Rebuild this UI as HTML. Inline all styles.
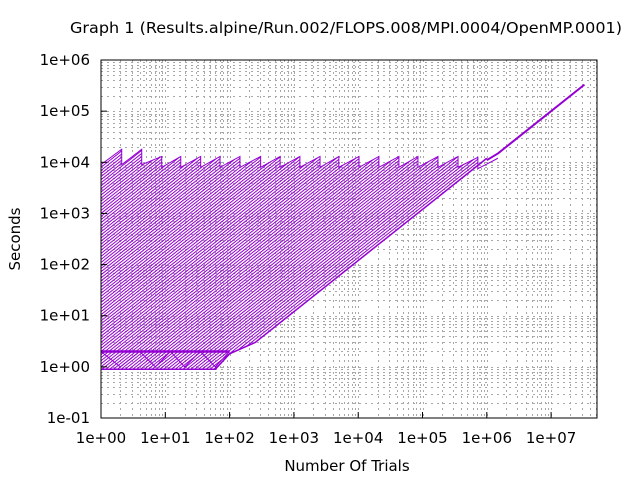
<!DOCTYPE html>
<html><head><meta charset="utf-8"><style>
html,body{margin:0;padding:0;background:#fff;width:640px;height:480px;overflow:hidden}
svg{display:block;font-family:"DejaVu Sans","Liberation Sans",sans-serif}
</style></head><body>
<svg id="chart" width="640" height="480" viewBox="0 0 640 480">
<text x="346" y="33" font-size="15" text-anchor="middle" textLength="552" lengthAdjust="spacingAndGlyphs">Graph 1 (Results.alpine/Run.002/FLOPS.008/MPI.0004/OpenMP.0001)</text>
<text x="20" y="239" font-size="15" text-anchor="middle" transform="rotate(-90 20 239)">Seconds</text>
<text x="347" y="471" font-size="15" text-anchor="middle">Number Of Trials</text>
<g id="grid"></g>
<defs><clipPath id="fillclip"><polygon id="fillpoly" points=""/></clipPath>
<clipPath id="plotclip"><rect x="101" y="60" width="496" height="358"/></clipPath></defs>
<g id="series" clip-path="url(#plotclip)"></g>
<rect x="101" y="60" width="496" height="358" fill="none" stroke="#000" stroke-width="1"/>
<g id="ticks"></g>
</svg>
<script>
const xTickLabels = ["1e+00","1e+01","1e+02","1e+03","1e+04","1e+05","1e+06","1e+07"];
const xTickValues = [0,1,2,3,4,5,6,7];
const yTickLabels = ["1e-01","1e+00","1e+01","1e+02","1e+03","1e+04","1e+05","1e+06"];
const yTickValues = [-1,0,1,2,3,4,5,6];
const peakTrials = [2.1,4.3,8.8,17.4,35.5,71,145,304,610,1240,2550,5000,10300,21000,43000,85000,174000,357000,727000,1490000];
const peakSeconds = [18000,18000,13000,13000,13000,13000,13000,13000,13000,13000,13000,13000,13000,13000,13000,13000,13000,13000,12500,12000];
const troughSeconds = [9000,9000,8000,8000,8000,8000,8000,8000,8000,8000,8000,8000,8000,8000,8000,8000,8000,8000,7500,7000];
const floorTrials = [1,60,100,250,1000000];
const floorSeconds = [0.9,0.9,1.8,3,12000];
const ratioLog = [-1.92,-1.86,-1.8,-1.74,-1.68,-1.62,-1.56,-1.5,-1.44,-1.38,-1.32,-1.26,-1.2,-1.14,-1.08,-1.02,-0.96,-0.9,-0.84,-0.78,-0.72,-0.66,-0.6,-0.54,-0.48,-0.42,-0.36,-0.3,-0.24,-0.18,-0.12,-0.06,0,0.06,0.12,0.18,0.24,0.3,0.36,0.42,0.48,0.54,0.6,0.66,0.72,0.78,0.84,0.9,0.96,1.02,1.08,1.14,1.2,1.26,1.32,1.38,1.44,1.5,1.56,1.62,1.68,1.74,1.8,1.86,1.92,1.98,2.04,2.1,2.16,2.22,2.28,2.34,2.4,2.46,2.52,2.58,2.64,2.7,2.76,2.82,2.88,2.94,3,3.06,3.12,3.18,3.24,3.3,3.36,3.42,3.48,3.54,3.6,3.66,3.72,3.78,3.84,3.9,3.96,4.02,4.08,4.14,4.2,4.26];
const zigTrials = [1,2,4,7,12,20,35,60,100,60,35,20,12,7,4,2,1];
const zigSeconds = [2,1,2,1,2,1,2,1,2,1,2,1,2,1,2,1,2];
const tailTrials = [1000000,1500000,33000000];
const tailSeconds = [11000,15000,330000];

const X0=101,X1=597,Y0=418,Y1=60;
const xPerDec=64.3, yPerDec=51.14;
function sx(v){return X0+Math.log10(v)*xPerDec;}
function sy(v){return Y0-(Math.log10(v)+1)*yPerDec;}
const NS="http://www.w3.org/2000/svg";
function mk(tag,attrs,parent){const e=document.createElementNS(NS,tag);for(const k in attrs)e.setAttribute(k,attrs[k]);parent.appendChild(e);return e;}
const grid=document.getElementById('grid'), ticks=document.getElementById('ticks'), series=document.getElementById('series');
for(let d=0; d<8; d++){for(let m=1;m<10;m++){const x=Math.round(sx(m*Math.pow(10,d)))+0.5; if(x<=X0+1||x>=X1) continue;
 const g=mk('line',{x1:x,x2:x,y1:Y1,y2:Y0,stroke:'#a8a8a8','stroke-width':1,'stroke-dasharray':'2,4'},grid);
 
 }}
for(let d=-1; d<6; d++){for(let m=1;m<10;m++){const y=Math.round(sy(m*Math.pow(10,d)))+0.5; if(y<=Y1+1||y>=Y0) continue;
 const g=mk('line',{x1:X0,x2:X1,y1:y,y2:y,stroke:'#a8a8a8','stroke-width':1,'stroke-dasharray':'2,4'},grid);
 
 }}
xTickValues.forEach((v,i)=>{const x=X0+v*xPerDec;
 mk('line',{x1:x,x2:x,y1:Y0,y2:Y0-6,stroke:'#000'},ticks);
 const t=mk('text',{x:x,y:443,'font-size':15,'text-anchor':'middle'},ticks); t.textContent=xTickLabels[i];
 
 });
yTickValues.forEach((v,i)=>{const y=Y0-(v+1)*yPerDec;
 mk('line',{x1:X0,x2:X0+6,y1:y,y2:y,stroke:'#000'},ticks);
 const t=mk('text',{x:90,y:y+5,'font-size':15,'text-anchor':'end'},ticks); t.textContent=yTickLabels[i];
 
 });
let pts=[[sx(1),sy(troughSeconds[0])]];
peakTrials.forEach((p,i)=>{pts.push([sx(p),sy(peakSeconds[i])]);pts.push([sx(p),sy(troughSeconds[i])]);});
pts.pop();
for(let i=floorTrials.length-1;i>=0;i--) pts.push([sx(floorTrials[i]),sy(floorSeconds[i])]);
document.getElementById('fillpoly').setAttribute('points',pts.map(p=>p.join(',')).join(' '));
const fillG=mk('g',{'clip-path':'url(#fillclip)'},series);


ratioLog.forEach(r=>{const c=Math.pow(10,r);
 const l=mk('line',{x1:sx(1e-3),y1:sy(c*1e-3),x2:sx(1e8),y2:sy(c*1e8),stroke:'#9400d3','stroke-width':1},fillG);
 
 });
const saw=mk('polyline',{points:pts.slice(0,peakTrials.length*2).map(p=>p.join(',')).join(' '),fill:'none',stroke:'#9400d3','stroke-width':1},series);


const fl=mk('polyline',{points:floorTrials.map((t,i)=>sx(t)+','+sy(floorSeconds[i])).join(' '),fill:'none',stroke:'#9400d3','stroke-width':1.5},series);


const zz=mk('polyline',{points:zigTrials.map((t,i)=>sx(t)+','+sy(zigSeconds[i])).join(' '),fill:'none',stroke:'#9400d3','stroke-width':1},series);


const h2=mk('line',{x1:sx(1),y1:sy(2),x2:sx(100),y2:sy(2),stroke:'#9400d3','stroke-width':2.5},series);


const tl=mk('polyline',{points:tailTrials.map((t,i)=>sx(t)+','+sy(tailSeconds[i])).join(' '),fill:'none',stroke:'#9400d3','stroke-width':2},series);


</script>
</body></html>
